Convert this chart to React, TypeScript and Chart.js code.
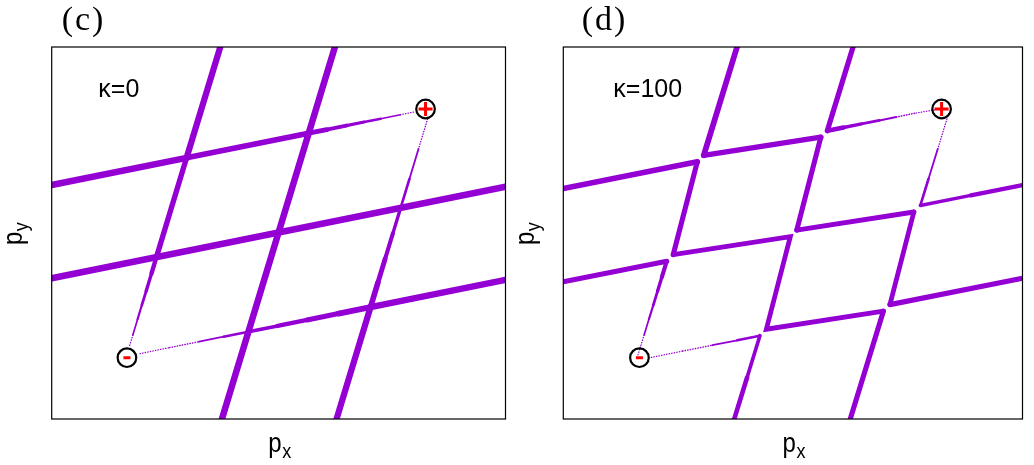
import React, { useEffect, useRef } from "react";
import { Chart, registerables } from "chart.js";

Chart.register(...registerables);

// ---- axis ranges (arbitrary momentum units) ----
const PX_RANGE = [0, 462];
const PY_RANGE = [0, 372];

// ---- nodes (Weyl points) ----
const plusNode = [{ x: 380.6, y: 310 }];
const minusNode = [{ x: 76.6, y: 61.3 }];

// ---- panel (c), kappa = 0 : straight crossing arcs, [px, py] ----
const cLineA = [[171.6, 372], [137.3, 261.2], [106.6, 161.8], [101.6, 145.5], [96.2, 128], [91.8, 114], [87.5, 100], [82.6, 84], [78.9, 72]];
const cLineAWeight = [6.5, 6, 4.8, 3.9, 3, 2.5, 2, 1.4, 1.2];
const cLineB = [[288.3, 372], [173.3, 0]];
const cLineBWeight = [6.5, 6.5];
const cLineC = [[382.7, 300], [373.4, 270], [364.2, 240], [355.2, 211], [347.3, 185.5], [339.4, 160], [332, 136], [324.6, 111.9], [290, 0]];
const cLineCWeight = [1.2, 1.5, 2.2, 3, 3.8, 4.5, 5.3, 6, 6.5];
const cLineD = [[0, 234], [137.3, 261.2], [261.6, 285.8], [280, 289.4], [300, 293.4], [318, 297], [335, 300.3], [355, 304.3], [370, 307.3]];
const cLineDWeight = [6.5, 6.3, 5.2, 4.4, 3.6, 2.8, 2.0, 1.3, 1.2];
const cLineE = [[0, 140.7], [462, 232.2]];
const cLineEWeight = [6.5, 6.5];
const cLineF = [[90, 65.4], [120, 71.4], [150, 77.3], [175, 82.3], [200.3, 87.3], [230, 93.1], [260, 99.1], [292, 105.4], [324.6, 111.9], [462, 139.1]];
const cLineFWeight = [1.2, 1.3, 1.5, 2.2, 3.2, 4.0, 4.8, 5.5, 6, 6.5];

// ---- panel (d), kappa = 100 : reconnected arcs ----
const dPath1 = [[174.8, 372], [141.3, 263.7], [259.1, 281.8], [234.9, 188.9], [352.7, 207.0], [328.6, 114.4], [462, 140.8]];
const dPath1Weight = [6, 5.5, 5.2, 5, 4.8, 4.8, 5.5];
const dPath2 = [[0, 230.5], [134.8, 257.2], [110.6, 164.3], [228.4, 182.4], [204.3, 89.8], [322.1, 107.9], [288.7, 0]];
const dPath2Weight = [6, 5.5, 4.8, 4.8, 4.8, 4.8, 5.5];
const dPath3 = [[0, 137.2], [104.1, 157.8], [99.2, 142], [94.9, 128], [90.6, 114], [86.2, 100], [81.3, 84], [77.6, 72], [75.1, 64]];
const dPath3Weight = [5.5, 4.6, 3.8, 3, 2.5, 2, 1.4, 1.2, 1.2];
const dPath4 = [[86, 61.1], [120, 67.9], [150, 73.8], [175, 78.7], [197.8, 83.3], [184.9, 41.5], [172.0, 0]];
const dPath4Weight = [1.2, 1.3, 1.5, 2.2, 3.2, 4.2, 5];
const dPath5 = [[291.5, 372], [265.6, 288.3], [282, 291.5], [300, 295.1], [318, 298.6], [335, 302.0], [355, 306.0], [378, 309.9]];
const dPath5Weight = [5.5, 5, 4, 3, 2.3, 1.8, 1.3, 1.2];
const dPath6 = [[387.5, 305], [376.7, 270], [367.4, 240], [359.2, 213.5], [410, 223.6], [462, 233.9]];
const dPath6Weight = [1.2, 1.5, 2.2, 3, 3.8, 4.8];

const PURPLE = "#9400d3";

function lineDataset(pts: number[][], w: number[]) {
  const avg = (c: any) => (w[c.p0DataIndex] + w[c.p1DataIndex]) / 2;
  return {
    type: "scatter",
    data: pts.map(([x, y]) => ({ x, y })),
    showLine: true,
    pointRadius: 0,
    pointHoverRadius: 0,
    borderColor: PURPLE,
    backgroundColor: PURPLE,
    borderWidth: w[0],
    borderCapStyle: "round",
    borderJoinStyle: "miter",
    clip: 0,
    order: 2,
    segment: {
      borderWidth: (c: any) => avg(c),
      borderDash: (c: any) => (avg(c) < 1.6 ? [0.4, 2.2] : []),
    },
  };
}

function nodeDatasets() {
  return [
    {
      type: "scatter", data: plusNode, pointStyle: "cross", pointRadius: 7,
      pointBorderWidth: 3, pointBorderColor: "#ff0000", pointBackgroundColor: "#ff0000", order: 0,
    },
    {
      type: "scatter", data: minusNode, pointStyle: "line", pointRadius: 3.5,
      pointBorderWidth: 3, pointBorderColor: "#ff0000", pointBackgroundColor: "#ff0000", order: 0,
    },
    {
      type: "scatter", data: [...plusNode, ...minusNode], pointStyle: "circle", pointRadius: 9.3,
      pointBorderWidth: 2.2, pointBorderColor: "#000000", pointBackgroundColor: "rgba(255,255,255,0)", order: 1,
    },
  ];
}

function drawPSub(ctx: CanvasRenderingContext2D, x: number, y: number, sub: string) {
  ctx.save();
  ctx.translate(x, y);
  ctx.scale(1, 1.15);
  ctx.textAlign = "left";
  ctx.textBaseline = "alphabetic";
  ctx.font = '24px "Liberation Sans"';
  ctx.fillText("p", 0, 0);
  const w = ctx.measureText("p").width;
  ctx.font = '18px "Liberation Sans"';
  ctx.fillText(sub, w + 0.5, 6 / 1.15);
  ctx.restore();
}

function labelsPlugin(panel: string, panelDx: number, kappa: string, kappaDx: number) {
  return {
    id: "labels",
    afterDraw(chart: any) {
      const ctx: CanvasRenderingContext2D = chart.ctx;
      const a = chart.chartArea;
      ctx.save();
      ctx.strokeStyle = "#000";
      ctx.lineWidth = 1.2;
      ctx.strokeRect(a.left, a.top, a.right - a.left, a.bottom - a.top);
      ctx.fillStyle = "#000";
      ctx.textAlign = "left";
      ctx.textBaseline = "alphabetic";
      ctx.font = '34px "Liberation Serif"';
      (ctx as any).letterSpacing = "2px";
      ctx.fillText(panel, a.left + panelDx, 30);
      (ctx as any).letterSpacing = "0px";
      ctx.font = '25px "Liberation Sans"';
      ctx.fillText(kappa, a.left + kappaDx, 96.7);
      drawPSub(ctx, (a.left + a.right) / 2 - 10.3, 451.5, "x");
      ctx.translate(a.left - 29.7, (a.top + a.bottom) / 2 + 12);
      ctx.rotate(-Math.PI / 2);
      drawPSub(ctx, 0, 0, "y");
      ctx.restore();
    },
  };
}

function Panel(props: { left: number; datasets: any[]; padding: any; plugin: any }) {
  const ref = useRef<HTMLCanvasElement>(null);
  useEffect(() => {
    const chart = new Chart(ref.current as HTMLCanvasElement, {
      type: "scatter",
      data: { datasets: props.datasets },
      options: {
        animation: false,
        responsive: false,
        events: [],
        layout: { padding: props.padding },
        scales: {
          x: { type: "linear", min: PX_RANGE[0], max: PX_RANGE[1], display: false },
          y: { type: "linear", min: PY_RANGE[0], max: PY_RANGE[1], display: false },
        },
        plugins: { legend: { display: false }, tooltip: { enabled: false } },
      },
      plugins: [props.plugin],
    } as any);
    return () => chart.destroy();
  }, []);
  return (
    <canvas
      ref={ref}
      width={517}
      height={465}
      style={{ position: "absolute", left: props.left, top: 0, width: 517, height: 465 }}
    />
  );
}

export default function App() {
  const cSets = [
    ...nodeDatasets(),
    lineDataset(cLineA, cLineAWeight),
    lineDataset(cLineB, cLineBWeight),
    lineDataset(cLineC, cLineCWeight),
    lineDataset(cLineD, cLineDWeight),
    lineDataset(cLineE, cLineEWeight),
    lineDataset(cLineF, cLineFWeight),
  ];
  const dSets = [
    ...nodeDatasets(),
    lineDataset(dPath1, dPath1Weight),
    lineDataset(dPath2, dPath2Weight),
    lineDataset(dPath3, dPath3Weight),
    lineDataset(dPath4, dPath4Weight),
    lineDataset(dPath5, dPath5Weight),
    lineDataset(dPath6, dPath6Weight),
  ];
  return (
    <div style={{ position: "fixed", left: 0, top: 0, width: 1034, height: 465, background: "#fff" }}>
      <Panel
        left={0}
        datasets={cSets}
        padding={{ left: 51.7, right: 3.7, top: 47, bottom: 46 }}
        plugin={labelsPlugin("(c)", 10, "κ=0", 46.6)}
      />
      <Panel
        left={517}
        datasets={dSets}
        padding={{ left: 46.3, right: 8.3, top: 47, bottom: 46 }}
        plugin={labelsPlugin("(d)", 18.4, "κ=100", 50)}
      />
    </div>
  );
}
